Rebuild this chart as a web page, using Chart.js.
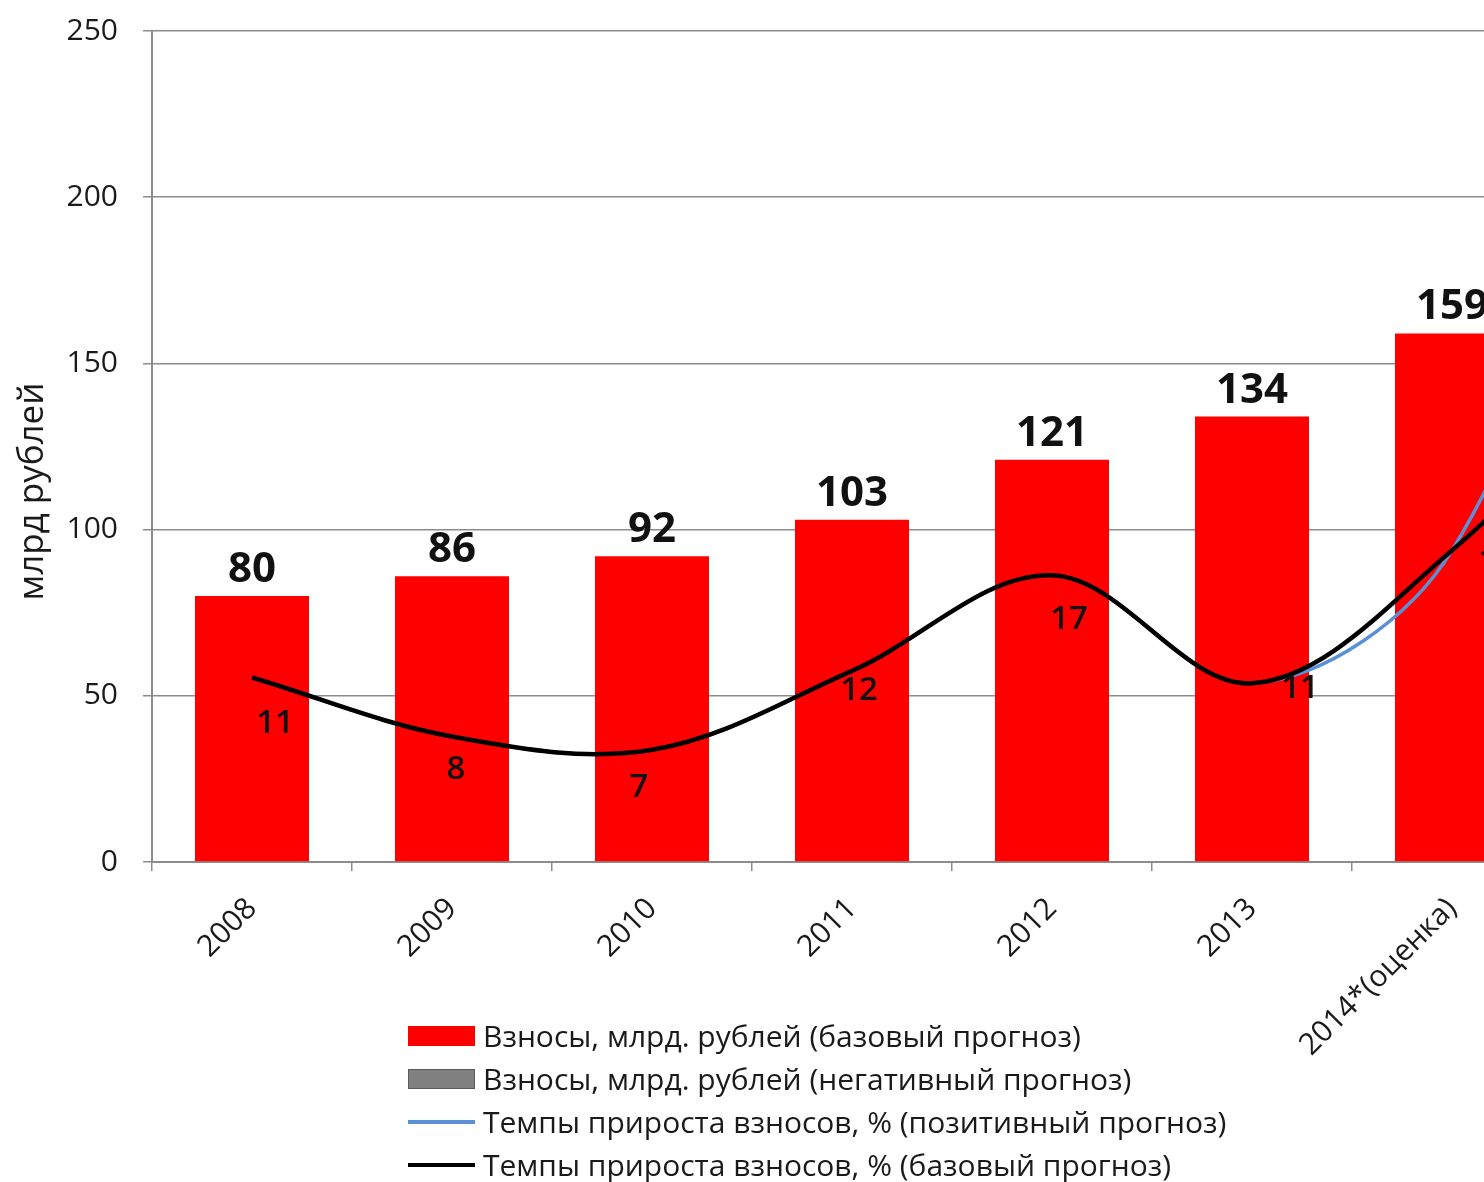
<!DOCTYPE html>
<html>
<head>
<meta charset="utf-8">
<script src="https://cdn.jsdelivr.net/npm/chart.js@4.4.1/dist/chart.umd.min.js"></script>
<style>
    html, body { margin: 0; padding: 0; background: #fff; overflow: hidden; }
    #wrap { position: relative; width: 1484px; height: 1182px; overflow: hidden; }
    #grafico { position: absolute; left: 0; top: -12px; }
    #leyenda { position: absolute; left: 408px; top: 1014px; font-family: "Open Sans", sans-serif; font-size: 30px; color: #1a1a1a; }
    .fila { display: flex; align-items: center; height: 43px; white-space: nowrap; }
    .simbolo { width: 67px; margin-right: 8px; flex: none; }
</style>
</head>
<body>
<div id="wrap">
    <canvas id="grafico" width="1760" height="1082"></canvas>
    <div id="leyenda"></div>
</div>
<script>
// годы; 2015 лежит за правым краем кадра, нужен только для продолжения линий
const anios = ["2008", "2009", "2010", "2011", "2012", "2013", "2014*(оценка)", "2015"];
const nVisibles = 7;

// взносы, млрд рублей
const vznosyBase = [80, 86, 92, 103, 121, 134, 159, null];
const vznosyNeg  = [null, null, null, null, null, null, null, null];

// темпы прироста, %
const tempBase = [11.1, 7.55, 6.75, 11.5, 17.25, 10.75, 18.75, 31];
const tempPos  = [11.1, 7.55, 6.75, 11.5, 17.25, 10.75, 18.75, 50];

const ticksY = [0, 50, 100, 150, 200, 250];
const ticksY2 = [0, 50];

const tituloY = "млрд рублей";

// desplazamiento de las etiquetas de la línea (px)
const despEtiq = [[23, 43], [4, 30], [-13, 35], [7, 17], [17, 42], [48, 3], [45, 9]];

const fuente = '"Open Sans", sans-serif';

const etiquetas = {
    id: "etiquetas",
    afterDatasetsDraw(chart) {
        const ctx = chart.ctx;
        ctx.save();
        ctx.fillStyle = "#111";
        ctx.textAlign = "center";
        ctx.textBaseline = "alphabetic";

        ctx.font = "bold 42px " + fuente;
        chart.getDatasetMeta(0).data.forEach(function (barra, i) {
            if (vznosyBase[i] == null || i >= nVisibles) return;
            ctx.fillText(vznosyBase[i], barra.x, barra.y - 14);
        });

        ctx.font = "600 33px " + fuente;
        chart.getDatasetMeta(3).data.forEach(function (p, i) {
            if (i >= nVisibles) return;
            ctx.fillText(Math.round(tempBase[i]), p.x + despEtiq[i][0], p.y + despEtiq[i][1] + 12);
        });
        ctx.restore();
    },
    afterDraw(chart) {
        // título del eje Y, algo más abajo del centro como en el original
        const s = chart.scales.y;
        const ctx = chart.ctx;
        ctx.save();
        ctx.translate(33, (s.top + s.bottom) / 2 + 45);
        ctx.rotate(-Math.PI / 2);
        ctx.font = "35px " + fuente;
        ctx.fillStyle = "#1a1a1a";
        ctx.textAlign = "center";
        ctx.textBaseline = "middle";
        ctx.fillText(tituloY, 0, 0);
        ctx.restore();
    }
};

const grafico = new Chart(document.getElementById("grafico"), {
    data: {
        labels: anios,
        datasets: [
            {
                type: "bar",
                label: "Взносы, млрд. рублей (базовый прогноз)",
                data: vznosyBase,
                backgroundColor: "#ff0000",
                grouped: false,
                barPercentage: 0.57,
                categoryPercentage: 1,
                order: 2
            },
            {
                type: "bar",
                label: "Взносы, млрд. рублей (негативный прогноз)",
                data: vznosyNeg,
                backgroundColor: "#808080",
                borderColor: "#5a5a5a",
                grouped: false,
                barPercentage: 0.57,
                categoryPercentage: 1,
                order: 3
            },
            {
                type: "line",
                label: "Темпы прироста взносов, % (позитивный прогноз)",
                data: tempPos,
                yAxisID: "y2",
                borderColor: "#5b8fd6",
                borderWidth: 3.5,
                pointRadius: 0,
                tension: 0.35,
                order: 1
            },
            {
                type: "line",
                label: "Темпы прироста взносов, % (базовый прогноз)",
                data: tempBase,
                yAxisID: "y2",
                borderColor: "#000000",
                borderWidth: 4.5,
                pointRadius: 0,
                tension: 0.35,
                order: 0
            }
        ]
    },
    options: {
        responsive: false,
        animation: false,
        layout: { padding: { left: 10, top: 18, right: 8, bottom: 0 } },
        plugins: {
            legend: { display: false },
            tooltip: { enabled: false }
        },
        scales: {
            x: {
                offset: true,
                grid: { drawOnChartArea: false, drawTicks: true, offset: true, tickLength: 9, color: "#8c8c8c", lineWidth: 1.5 },
                border: { color: "#8c8c8c", width: 2 },
                ticks: {
                    autoSkip: false,
                    minRotation: 45,
                    maxRotation: 45,
                    padding: 20,
                    color: "#1a1a1a",
                    font: { family: fuente, size: 30 },
                    callback: function (v, i) {
                        return i < nVisibles ? this.getLabelForValue(v) : "";
                    }
                },
                afterFit: function (s) { s.height = 208; }
            },
            y: {
                min: ticksY[0],
                max: ticksY[ticksY.length - 1],
                grid: { color: "#8c8c8c", lineWidth: 1.5, tickLength: 9 },
                border: { color: "#8c8c8c", width: 2 },
                ticks: {
                    stepSize: ticksY[1] - ticksY[0],
                    padding: 25,
                    color: "#1a1a1a",
                    font: { family: fuente, size: 30 }
                },
                afterFit: function (s) { s.width = 142; }
            },
            y2: {
                display: false,
                position: "right",
                min: ticksY2[0],
                max: ticksY2[1]
            }
        }
    },
    plugins: [etiquetas]
});

// leyenda en columna, como en el original
let html = "";
grafico.data.datasets.forEach(function (ds) {
    let simbolo;
    if (ds.type === "bar") {
        let borde = ds.borderColor ? "border:1px solid " + ds.borderColor + ";" : "";
        simbolo = '<div class="simbolo" style="height:20px;box-sizing:border-box;background:' + ds.backgroundColor + ';' + borde + '"></div>';
    } else {
        simbolo = '<div class="simbolo" style="height:4px;background:' + ds.borderColor + ';"></div>';
    }
    html += '<div class="fila">' + simbolo + '<span>' + ds.label + '</span></div>';
});
document.getElementById("leyenda").innerHTML = html;
</script>
</body>
</html>
